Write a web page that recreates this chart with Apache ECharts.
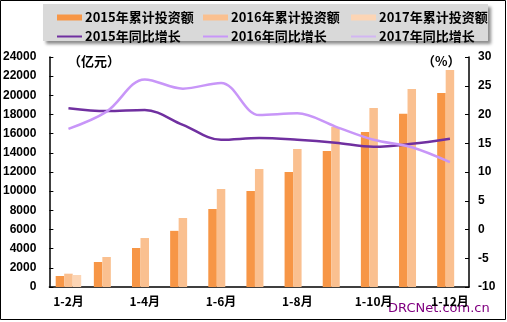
<!DOCTYPE html>
<html><head><meta charset="utf-8">
<script src="https://cdn.jsdelivr.net/npm/echarts@6/dist/echarts.min.js"></script>
<style>html,body{margin:0;padding:0;background:#fff}#c{width:507px;height:322px}</style>
</head><body><div id="c"></div>
<script>
var categories = ['1-2月','1-3月','1-4月','1-5月','1-6月','1-7月','1-8月','1-9月','1-10月','1-11月','1-12月'];
var invest2015 = [1150, 2610, 4070, 5860, 8140, 10020, 12000, 14190, 16170, 18090, 20240];
var invest2016 = [1390, 3130, 5110, 7200, 10230, 12310, 14400, 16700, 18680, 20660, 22640];
var invest2017 = [1250, null, null, null, null, null, null, null, null, null, null];
var growth2015 = [21.1, 20.6, 20.8, 18.2, 15.6, 15.9, 15.6, 15.1, 14.4, 14.9, 15.8];
var growth2016 = [17.5, 20.5, 26.1, 24.5, 25.5, 19.9, 20.2, 17.9, 15.6, 14.3, 11.7];
var growth2017 = [null, null, null, null, null, null, null, null, null, null, null];
var leftTicks = {min: 0, max: 24000, interval: 2000};
var rightTicks = {min: -10, max: 30, interval: 5};

var names = ['2015年累计投资额','2016年累计投资额','2017年累计投资额','2015年同比增长','2016年同比增长','2017年同比增长'];
var colors = ['#F79646','#FAC090','#FCD5B5','#7030A0','#C896F8','#D2B6F2'];
var lx = [57, 203, 351];
var ly = [11, 30];
var legends = [];
for (var i = 0; i < 6; i++) {
  legends.push({
    data: [names[i]], left: lx[i % 3], top: i < 3 ? ly[0] : ly[1],
    itemWidth: 25, itemHeight: i < 3 ? 6 : 2, itemGap: 0, padding: 0,
    icon: 'rect',
    textStyle: {color: '#000', fontWeight: 'bold', fontSize: 13, fontFamily: 'Noto Sans CJK SC', padding: [0,0,0,-2]}
  });
}
var fontA = 'Liberation Sans, Arial';
var chart = echarts.init(document.getElementById('c'), null, {renderer: 'canvas'});
chart.setOption({
  backgroundColor: '#fff',
  animation: false,
  graphic: [
    {type: 'rect', shape: {x: 0.5, y: 0.5, width: 505, height: 319}, style: {fill: 'none', stroke: '#000', lineWidth: 1}, z: 100},
    {type: 'rect', shape: {x: 43, y: 4, width: 445, height: 37}, style: {fill: '#d9d9d9', shadowColor: 'rgba(0,0,0,0.45)', shadowBlur: 3, shadowOffsetX: 3, shadowOffsetY: 3}, z: -1},
    {type: 'text', left: 68, top: 55, style: {text: '（亿元）', font: 'bold 13px "Noto Sans CJK SC"', fill: '#000'}},
    {type: 'text', left: 422, top: 55, style: {text: '（%）', font: 'bold 13px "Noto Sans CJK SC"', fill: '#000'}},
    {type: 'text', left: 388, top: 302, style: {text: 'DRCNet.com.cn', font: '13px "DejaVu Sans"', fill: '#800080'}}
  ],
  legend: legends,
  grid: {left: 49, right: 38, top: 57, bottom: 35},
  xAxis: {
    type: 'category', data: categories,
    axisLine: {lineStyle: {color: '#000', width: 1.5}},
    axisTick: {inside: true, length: 4, lineStyle: {color: '#000'}},
    axisLabel: {interval: 1, color: '#000', fontWeight: 'bold', fontSize: 12, fontFamily: 'Noto Sans CJK SC', margin: 8}
  },
  yAxis: [
    {type: 'value', min: leftTicks.min, max: leftTicks.max, interval: leftTicks.interval,
     axisLine: {show: true, lineStyle: {color: '#000', width: 1.5}},
     axisTick: {show: true, inside: true, length: 4, lineStyle: {color: '#000'}},
     splitLine: {show: false},
     axisLabel: {color: '#000', fontWeight: 'bold', fontSize: 12, fontFamily: fontA, margin: 13, formatter: function (v) { return String(v); }}},
    {type: 'value', min: rightTicks.min, max: rightTicks.max, interval: rightTicks.interval, position: 'right',
     axisLine: {show: true, lineStyle: {color: '#000', width: 1.5}},
     axisTick: {show: true, inside: true, length: 4, lineStyle: {color: '#000'}},
     splitLine: {show: false},
     axisLabel: {color: '#000', fontWeight: 'bold', fontSize: 12, fontFamily: fontA, margin: 9}}
  ],
  series: [
    {name: names[0], type: 'bar', data: invest2015, barWidth: 8.5, barGap: '0%', itemStyle: {color: colors[0]}},
    {name: names[1], type: 'bar', data: invest2016, barWidth: 8.5, barGap: '0%', itemStyle: {color: colors[1]}},
    {name: names[2], type: 'bar', data: invest2017, barWidth: 8.5, barGap: '0%', itemStyle: {color: colors[2]}},
    {name: names[3], type: 'line', yAxisIndex: 1, data: growth2015, smooth: 0.35, symbol: 'none', lineStyle: {color: colors[3], width: 2.5}, itemStyle: {color: colors[3]}},
    {name: names[4], type: 'line', yAxisIndex: 1, data: growth2016, smooth: 0.35, symbol: 'none', lineStyle: {color: colors[4], width: 2.5}, itemStyle: {color: colors[4]}},
    {name: names[5], type: 'line', yAxisIndex: 1, data: growth2017, smooth: 0.35, symbol: 'none', lineStyle: {color: colors[5], width: 2.5}, itemStyle: {color: colors[5]}}
  ]
});
</script></body></html>
